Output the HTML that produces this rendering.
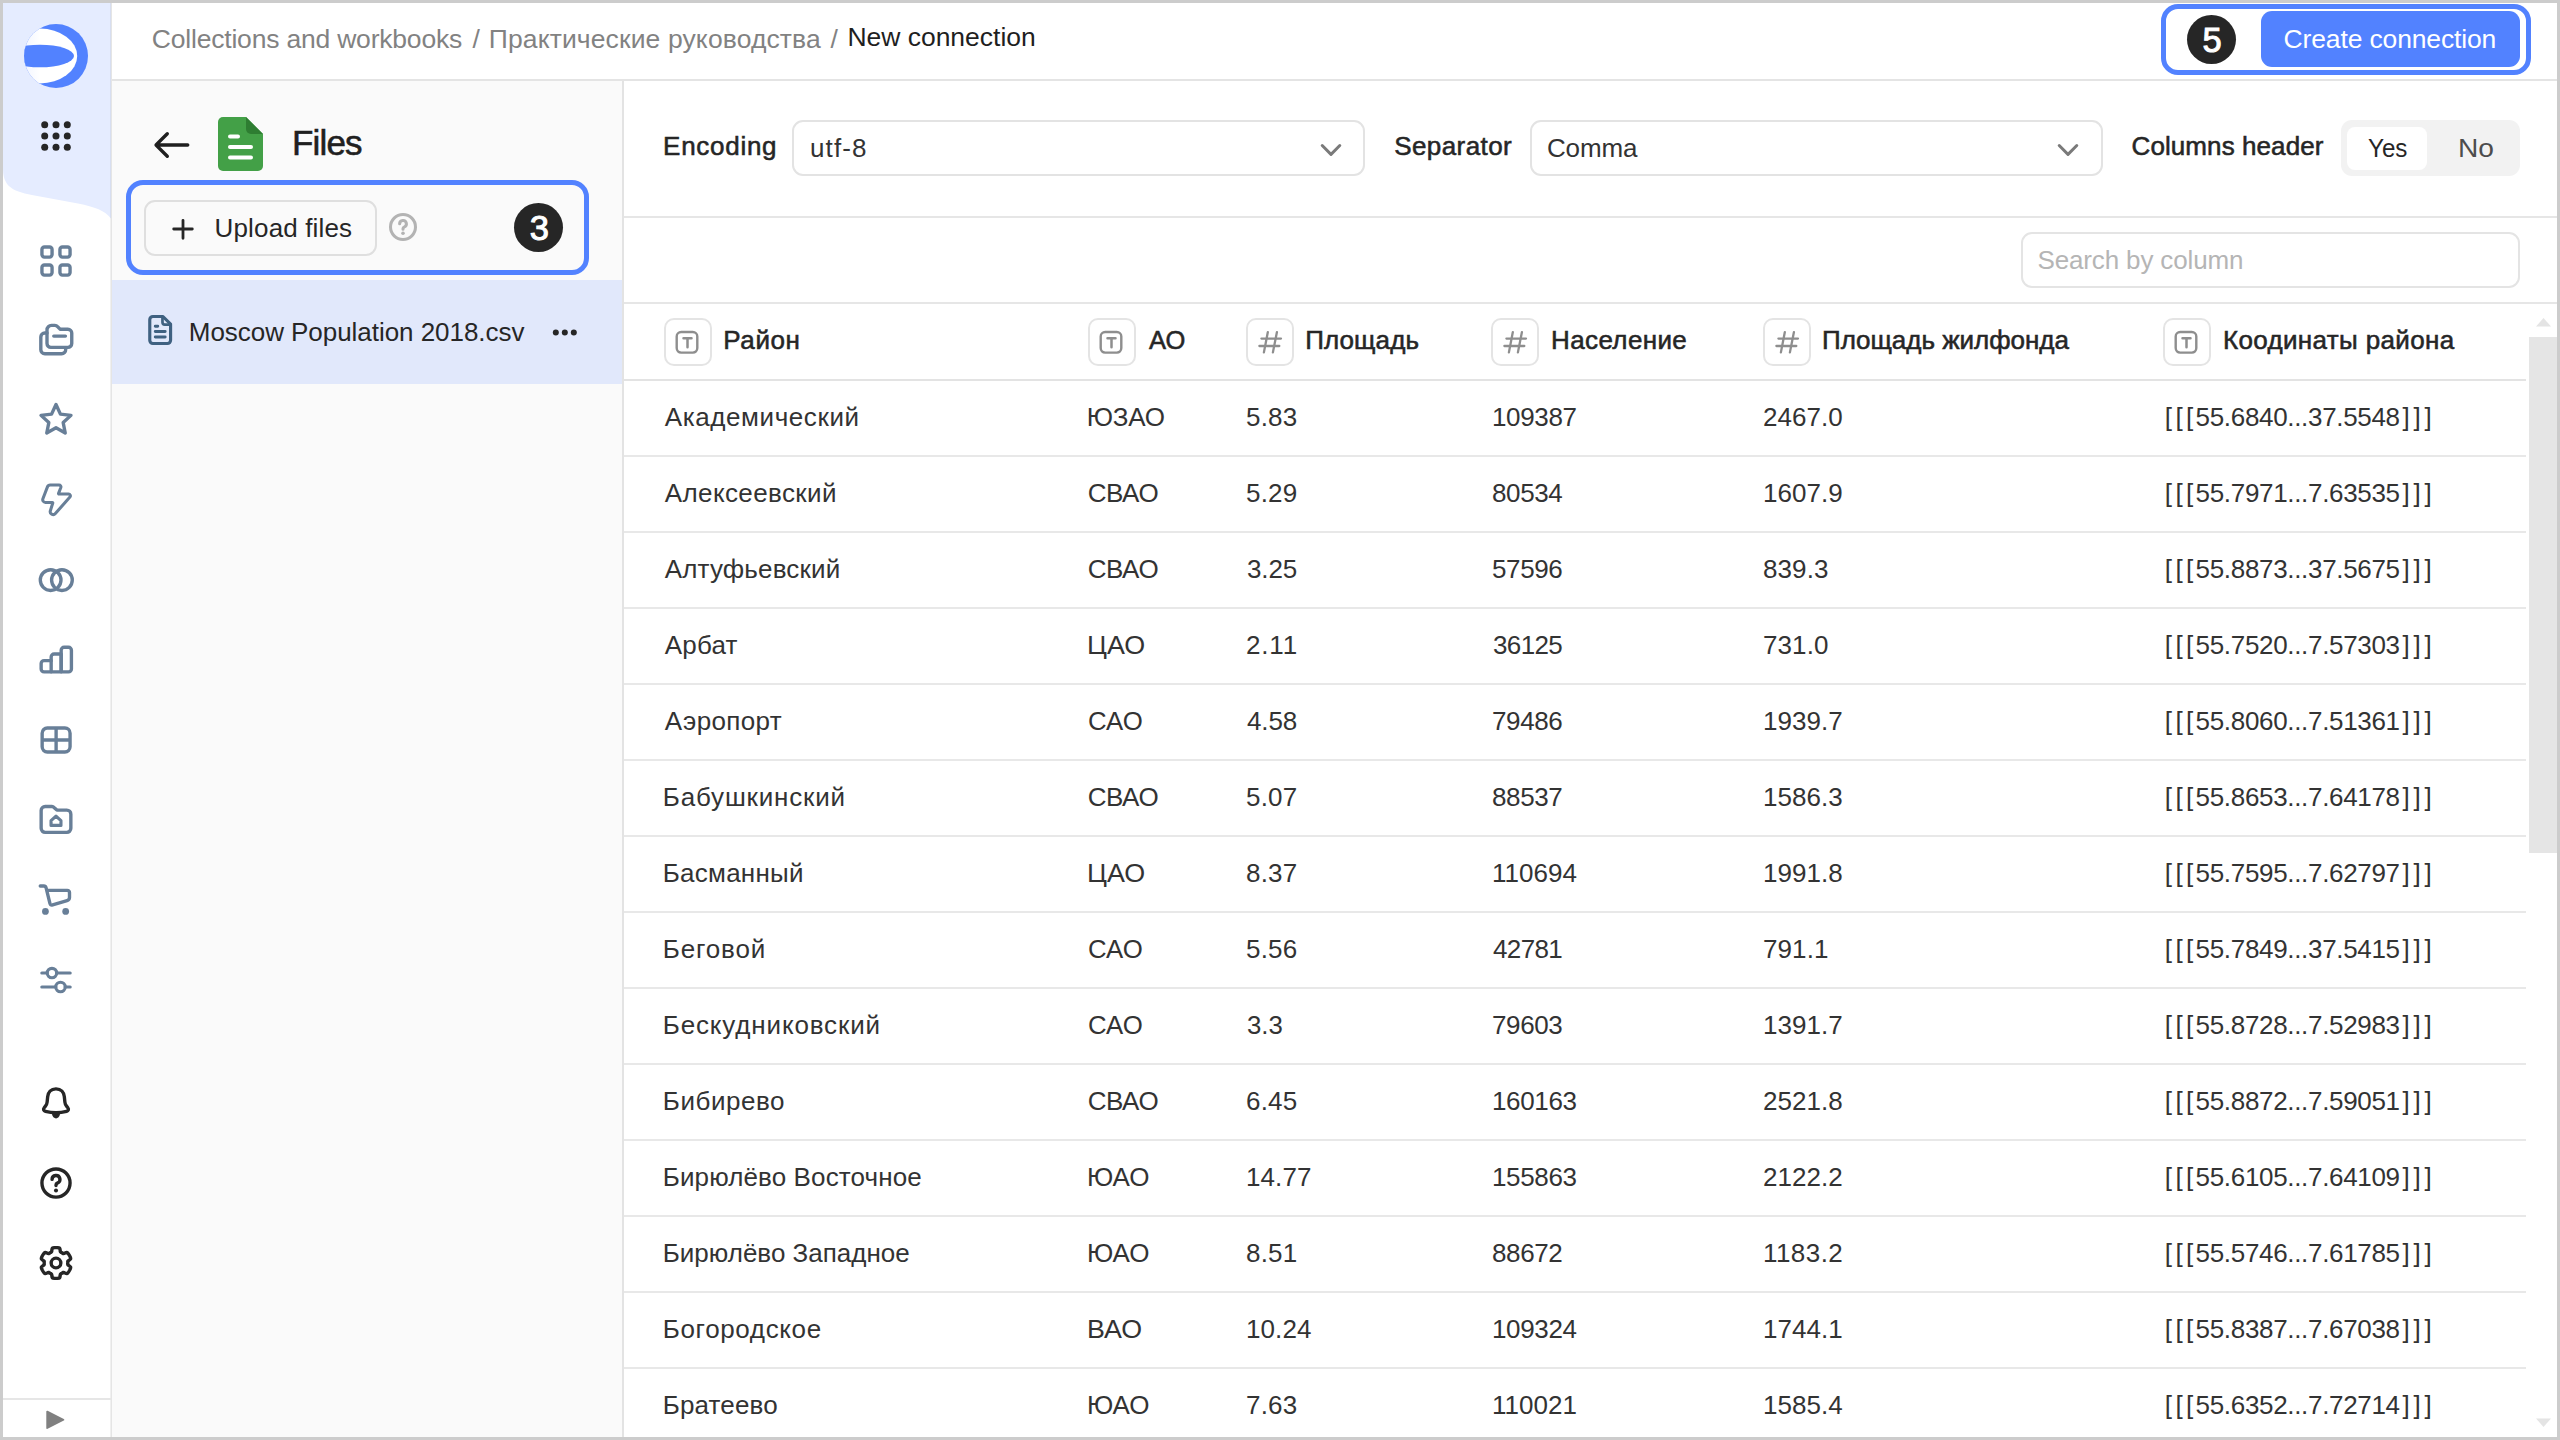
<!DOCTYPE html>
<html lang="en">
<head>
<meta charset="utf-8">
<title>New connection</title>
<style>
*{box-sizing:border-box;margin:0;padding:0}
html,body{width:2560px;height:1440px;overflow:hidden;background:#cccccc;font-family:"Liberation Sans",sans-serif}
.a{position:absolute}
.t{position:absolute;white-space:pre;line-height:1;font-family:"Liberation Sans",sans-serif}
#app{position:absolute;left:3px;top:3px;width:2554px;height:1434px;background:#fff;overflow:hidden}
/* everything below is positioned in page coordinates, so shift the origin back */
#o{position:absolute;left:-3px;top:-3px;width:2560px;height:1440px}
.ln{position:absolute;background:#e6e6e6}
.ico{position:absolute;overflow:visible}
.nav{color:#687f98}
.blk{color:#262626}
.tbox{position:absolute;width:48px;height:48px;border:2px solid #e4e4e4;border-radius:10px;background:#fff}
.sel{position:absolute;height:56px;border:2px solid #e3e3e3;border-radius:11px;background:#fff}
</style>
</head>
<body>
<div id="app"><div id="o">

<!-- ===== files panel ===== -->
<div class="a" style="left:112px;top:80px;width:511px;height:1360px;background:#fafafa"></div>
<div class="a" style="left:112px;top:280px;width:511px;height:104px;background:#e1e8fb"></div>
<div class="ln" style="left:622px;top:80px;width:2px;height:1360px;background:#e3e3e3"></div>

<!-- ===== header ===== -->
<div class="ln" style="left:112px;top:79px;width:2445px;height:2px;background:#e4e4e4"></div>

<!-- create connection highlight -->
<div class="a" style="left:2161px;top:4px;width:370px;height:71px;border:5px solid #5282ff;border-radius:17px;background:#fff"></div>
<div class="a" style="left:2186.5px;top:15px;width:49px;height:49px;border-radius:50%;background:#262626"></div>
<div class="a" style="left:2261px;top:11px;width:259px;height:56px;border-radius:11px;background:#5282ff"></div>

<!-- ===== sidebar ===== -->
<div class="a" style="left:3px;top:3px;width:108px;height:1434px;background:#fff"></div>
<svg class="a" style="left:0;top:0" width="112" height="230" viewBox="0 0 112 230"><path d="M3 3H111V218.500C105 210.500 95 207 78 203.500L40 196.500C18 192.500 3 190 3 169Z" fill="#e5ecff"/></svg>
<div class="ln" style="left:110px;top:3px;width:1px;height:1434px;background:rgba(0,0,0,.06)"></div><div class="ln" style="left:111px;top:3px;width:1px;height:1434px;background:rgba(0,0,0,.1)"></div>
<div class="ln" style="left:3px;top:1398px;width:108px;height:2px;background:#e6e6e6"></div>

<!-- logo -->
<svg class="a" style="left:24px;top:24px" width="64" height="64" viewBox="0 0 64 64">
<defs><linearGradient id="lg" x1="0" x2="1" y1="0" y2="0"><stop offset="0" stop-color="#dfe8ff"/><stop offset="0.5" stop-color="#ffffff"/></linearGradient>
<clipPath id="lc"><circle cx="32" cy="32" r="32"/></clipPath></defs>
<circle cx="32" cy="32" r="32" fill="#5282ff"/>
<g clip-path="url(#lc)"><ellipse cx="16" cy="32" rx="37.200" ry="27.400" fill="url(#lg)"/><ellipse cx="16" cy="32" rx="34" ry="11.300" fill="#5282ff"/></g>
</svg>
<!-- 9 dots -->
<svg class="a" style="left:38.400px;top:118.200px" width="36" height="36" viewBox="0 0 36 36" fill="#262626">
<circle cx="6.7" cy="6.7" r="3.500"/><circle cx="18" cy="6.7" r="3.500"/><circle cx="29.3" cy="6.7" r="3.500"/>
<circle cx="6.7" cy="18" r="3.500"/><circle cx="18" cy="18" r="3.500"/><circle cx="29.3" cy="18" r="3.500"/>
<circle cx="6.7" cy="29.3" r="3.500"/><circle cx="18" cy="29.3" r="3.500"/><circle cx="29.3" cy="29.3" r="3.500"/>
</svg>

<!-- nav icons : 36px, viewBox 16 -->
<svg class="ico nav" style="left:38px;top:243px" width="36" height="36" viewBox="0 0 16 16" fill="none" stroke="currentColor" stroke-width="1.500" stroke-linecap="round" stroke-linejoin="round">
<rect x="1.750" y="1.750" width="4.500" height="4.500" rx="1.100"/><rect x="9.750" y="1.750" width="4.500" height="4.500" rx="1.100"/><rect x="1.750" y="9.750" width="4.500" height="4.500" rx="1.100"/><rect x="9.750" y="9.750" width="4.500" height="4.500" rx="1.100"/></svg>

<svg class="ico nav" style="left:38px;top:321.500px" width="36" height="36" viewBox="0 0 16 16" fill="none" stroke="currentColor" stroke-width="1.500" stroke-linecap="round" stroke-linejoin="round">
<path d="M4 3.900V9.600A1.700 1.700 0 0 0 5.700 11.300H13.300A1.700 1.700 0 0 0 15 9.600V4.900A1.700 1.700 0 0 0 13.300 3.200H9.800L8.700 2.050A1.600 1.600 0 0 0 7.500 1.500H6A2 2 0 0 0 4 3.500Z"/>
<path d="M7 6.250H12.200"/>
<path d="M4 4.900H3A1.750 1.750 0 0 0 1.250 6.650V12.300A1.800 1.800 0 0 0 3.050 14.100H10.500A1.800 1.800 0 0 0 12.300 12.300V11.400"/></svg>

<svg class="ico nav" style="left:38px;top:401px" width="36" height="36" viewBox="0 0 16 16" fill="none" stroke="currentColor" stroke-width="1.500" stroke-linecap="round" stroke-linejoin="round">
<path d="M8.00 1.55L9.97 5.84L14.66 6.39L11.19 9.59L12.11 14.21L8.00 11.90L3.89 14.21L4.81 9.59L1.34 6.39L6.03 5.84Z"/></svg>

<svg class="ico nav" style="left:38px;top:481.500px" width="36" height="36" viewBox="0 0 16 16" fill="none" stroke="currentColor" stroke-width="1.500" stroke-linecap="round" stroke-linejoin="round">
<path d="M4.20 2.17A1.30 1.30 0 0 1 5.42 1.33L9.35 1.33A0.85 0.85 0 0 1 10.15 2.47L9.13 5.07A0.20 0.20 0 0 0 9.32 5.34L13.59 5.34A0.80 0.80 0 0 1 14.19 6.67L7.72 14.02A1.30 1.30 0 0 1 5.50 12.77L6.57 9.34A0.20 0.20 0 0 0 6.38 9.08L3.30 9.08A1.20 1.20 0 0 1 2.18 7.45Z" stroke-width="1.350"/></svg>

<svg class="ico nav" style="left:38px;top:561.500px" width="36" height="36" viewBox="0 0 16 16" fill="none" stroke="currentColor" stroke-width="1.500">
<circle cx="5.620" cy="8.050" r="4.600"/><circle cx="10.640" cy="8.050" r="4.600"/></svg>

<svg class="ico nav" style="left:38px;top:642px" width="36" height="36" viewBox="0 0 16 16" fill="none" stroke="currentColor" stroke-width="1.500" stroke-linecap="round" stroke-linejoin="round">
<path d="M5.850 13.250H2.700A1.300 1.300 0 0 1 1.400 11.950V9.600A1.300 1.300 0 0 1 2.700 8.300H5.850"/>
<path d="M5.850 13.250V6.650A1.300 1.300 0 0 1 7.150 5.350H10.300V13.250Z"/>
<path d="M10.300 13.250V3.650A1.300 1.300 0 0 1 11.600 2.350H13.550A1.300 1.300 0 0 1 14.850 3.650V11.950A1.300 1.300 0 0 1 13.550 13.250Z"/></svg>

<svg class="ico nav" style="left:38px;top:722px" width="36" height="36" viewBox="0 0 16 16" fill="none" stroke="currentColor" stroke-width="1.500" stroke-linecap="round" stroke-linejoin="round">
<rect x="1.850" y="2.650" width="12.400" height="10.700" rx="2.300"/><path d="M8.050 2.650V13.350M1.850 8H14.250" stroke-linecap="butt"/></svg>

<svg class="ico nav" style="left:38px;top:801.500px" width="36" height="36" viewBox="0 0 16 16" fill="none" stroke="currentColor" stroke-width="1.500" stroke-linecap="round" stroke-linejoin="round">
<path d="M1.400 4V11.700A1.800 1.800 0 0 0 3.200 13.500H12.800A1.800 1.800 0 0 0 14.600 11.700V5.400A1.800 1.800 0 0 0 12.800 3.600H8.400L7.100 2.400A1.300 1.300 0 0 0 6.200 2H3.200A1.800 1.800 0 0 0 1.400 3.800Z"/>
<path d="M8 6.300L10.200 8.300V10.400H5.800V8.300Z" stroke-width="1.400"/></svg>

<svg class="ico nav" style="left:38px;top:881.500px" width="36" height="36" viewBox="0 0 16 16" fill="none" stroke="currentColor" stroke-width="1.500" stroke-linecap="round" stroke-linejoin="round">
<path d="M1 1.750H2.600A1 1 0 0 1 3.570 2.500L5.300 9.500A1 1 0 0 0 6.500 10.200L12.900 8.300A1.500 1.500 0 0 0 14 6.900V4.700A1 1 0 0 0 13 3.700H4"/>
<circle cx="3.300" cy="13.100" r="1.500" fill="currentColor" stroke="none"/><circle cx="12.300" cy="13.100" r="1.500" fill="currentColor" stroke="none"/></svg>

<svg class="ico nav" style="left:38px;top:961.500px" width="36" height="36" viewBox="0 0 16 16" fill="none" stroke="currentColor" stroke-width="1.400" stroke-linecap="round" stroke-linejoin="round">
<path d="M1.700 4.900H4.100M8.300 4.900H14.300M1.700 11.100H7.900M12.100 11.100H14.300"/>
<circle cx="6.200" cy="4.900" r="2.100"/><circle cx="10" cy="11.100" r="2.100"/></svg>

<!-- bottom icons -->
<svg class="ico blk" style="left:38.400px;top:1085px" width="36" height="36" viewBox="0 0 16 16" fill="none" stroke="currentColor" stroke-width="1.500" stroke-linecap="round" stroke-linejoin="round">
<path d="M8 1.700C5.700 1.700 4.500 3.300 4.300 5.200L4.050 7.600C3.980 8.300 3.700 8.900 3.300 9.400L2.750 10.100C2.200 10.800 2.500 11.500 3.300 11.700C6.300 12.500 9.700 12.500 12.700 11.700C13.500 11.500 13.800 10.800 13.250 10.100L12.700 9.400C12.300 8.900 12.020 8.300 11.950 7.600L11.700 5.200C11.500 3.300 10.300 1.700 8 1.700Z"/>
<path d="M6.150 12.700C6.400 14.200 7.200 14.850 8 14.850C8.800 14.850 9.600 14.200 9.850 12.700Z" fill="currentColor" stroke="none"/></svg>

<svg class="ico blk" style="left:38.400px;top:1164.500px" width="36" height="36" viewBox="0 0 16 16" fill="none" stroke="currentColor" stroke-width="1.500" stroke-linecap="round" stroke-linejoin="round">
<circle cx="8" cy="8" r="6.250"/><path d="M6.250 6.400A1.750 1.750 0 1 1 8.600 8.050C8.250 8.200 8 8.450 8 8.850V9.100"/><circle cx="8" cy="11.300" r="0.900" fill="currentColor" stroke="none"/></svg>

<svg class="ico blk" style="left:38.400px;top:1244.700px" width="36" height="36" viewBox="0 0 16 16" fill="none" stroke="currentColor" stroke-width="1.500" stroke-linecap="round" stroke-linejoin="round">
<path d="M8.00 1.15L8.24 1.15L8.48 1.17L8.72 1.19L8.95 1.22L9.19 1.25L9.42 1.30L9.64 1.44L9.77 1.81L9.85 2.30L9.90 2.77L9.98 3.09L10.14 3.20L10.30 3.28L10.46 3.36L10.62 3.45L10.78 3.55L10.94 3.65L11.09 3.75L11.26 3.83L11.58 3.74L12.01 3.55L12.47 3.37L12.86 3.30L13.09 3.42L13.25 3.60L13.40 3.78L13.54 3.97L13.68 4.17L13.81 4.37L13.93 4.58L14.05 4.78L14.16 5.00L14.26 5.21L14.35 5.43L14.44 5.66L14.51 5.88L14.50 6.14L14.24 6.44L13.86 6.75L13.48 7.03L13.24 7.26L13.22 7.45L13.24 7.63L13.25 7.82L13.25 8.00L13.25 8.18L13.24 8.37L13.22 8.55L13.24 8.74L13.48 8.97L13.86 9.25L14.24 9.56L14.50 9.86L14.51 10.12L14.44 10.34L14.35 10.57L14.26 10.79L14.16 11.00L14.05 11.22L13.93 11.42L13.81 11.63L13.68 11.83L13.54 12.03L13.40 12.22L13.25 12.40L13.09 12.58L12.86 12.70L12.47 12.63L12.01 12.45L11.58 12.26L11.26 12.17L11.09 12.25L10.94 12.35L10.78 12.45L10.62 12.55L10.46 12.64L10.30 12.72L10.14 12.80L9.98 12.91L9.90 13.23L9.85 13.70L9.77 14.19L9.64 14.56L9.42 14.70L9.19 14.75L8.95 14.78L8.72 14.81L8.48 14.83L8.24 14.85L8.00 14.85L7.76 14.85L7.52 14.83L7.28 14.81L7.05 14.78L6.81 14.75L6.58 14.70L6.36 14.56L6.23 14.19L6.15 13.70L6.10 13.23L6.02 12.91L5.86 12.80L5.70 12.72L5.54 12.64L5.38 12.55L5.22 12.45L5.06 12.35L4.91 12.25L4.74 12.17L4.42 12.26L3.99 12.45L3.53 12.63L3.14 12.70L2.91 12.58L2.75 12.40L2.60 12.22L2.46 12.03L2.32 11.83L2.19 11.63L2.07 11.42L1.95 11.22L1.84 11.00L1.74 10.79L1.65 10.57L1.56 10.34L1.49 10.12L1.50 9.86L1.76 9.56L2.14 9.25L2.52 8.97L2.76 8.74L2.78 8.55L2.76 8.37L2.75 8.18L2.75 8.00L2.75 7.82L2.76 7.63L2.78 7.45L2.76 7.26L2.52 7.03L2.14 6.75L1.76 6.44L1.50 6.14L1.49 5.88L1.56 5.66L1.65 5.43L1.74 5.21L1.84 5.00L1.95 4.78L2.07 4.57L2.19 4.37L2.32 4.17L2.46 3.97L2.60 3.78L2.75 3.60L2.91 3.42L3.14 3.30L3.53 3.37L3.99 3.55L4.42 3.74L4.74 3.83L4.91 3.75L5.06 3.65L5.22 3.55L5.37 3.45L5.54 3.36L5.70 3.28L5.86 3.20L6.02 3.09L6.10 2.77L6.15 2.30L6.23 1.81L6.36 1.44L6.58 1.30L6.81 1.25L7.05 1.22L7.28 1.19L7.52 1.17L7.76 1.15Z"/>
<circle cx="8" cy="8" r="2.150"/></svg>

<svg class="a" style="left:46px;top:1410px" width="19" height="20" viewBox="0 0 19 20"><path d="M1.200 1.600L17.400 9.800L1.200 18Z" fill="#808080" stroke="#808080" stroke-width="1.800" stroke-linejoin="round"/></svg>

<!-- ===== files panel content ===== -->
<svg class="ico" style="left:152px;top:126.500px;color:#1f1f1f" width="40" height="36" viewBox="0 0 17.800 16"><path fill="currentColor" d="M7.330 2.470a.75.75 0 0 1 0 1.060L3.610 7.250H15.900a.75.75 0 0 1 0 1.500H3.610l3.720 3.720a.75.75 0 1 1-1.060 1.060l-5-5a.75.75 0 0 1 0-1.060l5-5a.75.75 0 0 1 1.060 0Z"/></svg>
<svg class="a" style="left:217.500px;top:117px" width="45" height="54" viewBox="0 0 45 54">
<path d="M5 0H28L45 17V49A5 5 0 0 1 40 54H5A5 5 0 0 1 0 49V5A5 5 0 0 1 5 0Z" fill="#43a047"/>
<path d="M28 0L45 17H33A5 5 0 0 1 28 12Z" fill="#2e7d32"/>
<rect x="10" y="17.500" width="12" height="4" rx="2" fill="#fff"/><rect x="10" y="28" width="25" height="4" rx="2" fill="#fff"/><rect x="10" y="38.500" width="25" height="4" rx="2" fill="#fff"/>
</svg>

<!-- upload highlight -->
<div class="a" style="left:126px;top:180px;width:463px;height:95px;border:5px solid #5282ff;border-radius:17px;background:#fafafa"></div>
<div class="a" style="left:144px;top:200px;width:232.500px;height:56px;border:2px solid #dfdfdf;border-radius:11px;background:#fafafa"></div>
<svg class="ico" style="left:167.400px;top:212.700px;color:#262626" width="32" height="32" viewBox="0 0 16 16"><path fill="currentColor" d="M8 2.950a.7.700 0 0 1 .7.700v3.650h3.950a.7.700 0 0 1 0 1.400H8.700v3.950a.7.700 0 0 1-1.400 0V8.700H3.350a.7.700 0 0 1 0-1.400H7.300V3.650A.7.700 0 0 1 8 2.950Z"/></svg>
<svg class="ico" style="left:385px;top:209px;color:#b3b3b3" width="36" height="36" viewBox="0 0 16 16" fill="none" stroke="currentColor" stroke-width="1.350" stroke-linecap="round" stroke-linejoin="round">
<circle cx="8" cy="8" r="5.550"/><path d="M6.500 6.600A1.500 1.500 0 1 1 8.500 8.050C8.200 8.200 8 8.400 8 8.750V9"/><circle cx="8" cy="10.800" r="0.800" fill="currentColor" stroke="none"/></svg>
<div class="a" style="left:514px;top:203px;width:49px;height:49px;border-radius:50%;background:#262626"></div>

<!-- file row -->
<svg class="ico" style="left:142px;top:311.500px;color:#3f6181" width="36" height="36" viewBox="0 0 16 16" fill="none" stroke="currentColor" stroke-width="1.400" stroke-linecap="round" stroke-linejoin="round">
<path d="M3.450 3.400A1.400 1.400 0 0 1 4.850 2H9.300L12.700 5.400V12.600A1.400 1.400 0 0 1 11.300 14H4.850A1.400 1.400 0 0 1 3.450 12.600Z"/><path d="M9.100 2.200V4.600A1 1 0 0 0 10.100 5.600H12.500" stroke-width="1.200"/>
<path d="M5.900 6.300H7M5.900 8.700H10.300M5.900 11.100H10.300" stroke-width="1.300"/></svg>
<svg class="a" style="left:552px;top:328px" width="26" height="9" viewBox="0 0 26 9" fill="#262626"><circle cx="3.800" cy="4.500" r="3"/><circle cx="12.800" cy="4.500" r="3"/><circle cx="21.800" cy="4.500" r="3"/></svg>

<!-- ===== toolbar ===== -->
<div class="ln" style="left:624px;top:216px;width:1933px;height:2px;background:#e6e6e6"></div>
<div class="sel" style="left:792px;top:120px;width:573px"></div>
<div class="sel" style="left:1530px;top:120px;width:572.500px"></div>
<svg class="ico" style="left:1314.100px;top:131.700px;color:#7a7a7a" width="34" height="34" viewBox="0 0 16 16"><path fill="currentColor" d="M3.370 5.870a.7.700 0 0 1 1 0L8 9.500l3.630-3.630a.7.700 0 1 1 1 1l-4.130 4.130a.7.700 0 0 1-1 0L3.370 6.870a.7.700 0 0 1 0-1Z"/></svg>
<svg class="ico" style="left:2050.700px;top:131.700px;color:#7a7a7a" width="34" height="34" viewBox="0 0 16 16"><path fill="currentColor" d="M3.370 5.870a.7.700 0 0 1 1 0L8 9.500l3.630-3.630a.7.700 0 1 1 1 1l-4.130 4.130a.7.700 0 0 1-1 0L3.370 6.870a.7.700 0 0 1 0-1Z"/></svg>
<div class="a" style="left:2341px;top:120px;width:179px;height:56px;border-radius:11px;background:#f2f2f2"></div>
<div class="a" style="left:2347px;top:126.500px;width:80px;height:43px;border-radius:8px;background:#fff"></div>

<!-- search -->
<div class="a" style="left:2020.500px;top:232px;width:499.500px;height:55.500px;border:2px solid #e4e4e4;border-radius:11px;background:#fff"></div>

<!-- ===== table ===== -->
<div class="ln" style="left:624px;top:302px;width:1933px;height:2px;background:#e6e6e6"></div>
<div class="ln" style="left:624px;top:379px;width:1902px;height:2px;background:#e3e3e3"></div>
<div class="ln" style="left:624px;top:455px;width:1902px;height:2px;background:#e8e8e8"></div>
<div class="ln" style="left:624px;top:531px;width:1902px;height:2px;background:#e8e8e8"></div>
<div class="ln" style="left:624px;top:607px;width:1902px;height:2px;background:#e8e8e8"></div>
<div class="ln" style="left:624px;top:683px;width:1902px;height:2px;background:#e8e8e8"></div>
<div class="ln" style="left:624px;top:759px;width:1902px;height:2px;background:#e8e8e8"></div>
<div class="ln" style="left:624px;top:835px;width:1902px;height:2px;background:#e8e8e8"></div>
<div class="ln" style="left:624px;top:911px;width:1902px;height:2px;background:#e8e8e8"></div>
<div class="ln" style="left:624px;top:987px;width:1902px;height:2px;background:#e8e8e8"></div>
<div class="ln" style="left:624px;top:1063px;width:1902px;height:2px;background:#e8e8e8"></div>
<div class="ln" style="left:624px;top:1139px;width:1902px;height:2px;background:#e8e8e8"></div>
<div class="ln" style="left:624px;top:1215px;width:1902px;height:2px;background:#e8e8e8"></div>
<div class="ln" style="left:624px;top:1291px;width:1902px;height:2px;background:#e8e8e8"></div>
<div class="ln" style="left:624px;top:1367px;width:1902px;height:2px;background:#e8e8e8"></div>
<div class="tbox" style="left:663.5px;top:318px"></div>
<div class="tbox" style="left:1087.5px;top:318px"></div>
<div class="tbox" style="left:1246px;top:318px"></div>
<div class="tbox" style="left:1491px;top:318px"></div>
<div class="tbox" style="left:1763px;top:318px"></div>
<div class="tbox" style="left:2163px;top:318px"></div>
<svg class="a" style="left:663.6px;top:318.800px" width="47" height="47" viewBox="0 0 47 47" fill="none" stroke="#8e8e8e" stroke-width="2.400" stroke-linecap="round"><rect x="12.700" y="13" width="20.600" height="20.600" rx="4.500"/><path d="M19.500 19.300H27.500M23.500 19.300V28.300" stroke-width="2.500"/></svg>
<svg class="a" style="left:1087.6px;top:318.800px" width="47" height="47" viewBox="0 0 47 47" fill="none" stroke="#8e8e8e" stroke-width="2.400" stroke-linecap="round"><rect x="12.700" y="13" width="20.600" height="20.600" rx="4.500"/><path d="M19.500 19.300H27.500M23.500 19.300V28.300" stroke-width="2.500"/></svg>
<svg class="a" style="left:1246.5px;top:319px" width="47" height="47" viewBox="0 0 47 47" fill="none" stroke="#8e8e8e" stroke-width="2.300" stroke-linecap="round"><path d="M14.400 19.600H34M12.400 27H32.300M20.800 13.200L16.900 33.400M29.900 13.200L25.900 33.400"/></svg>
<svg class="a" style="left:1491.5px;top:319px" width="47" height="47" viewBox="0 0 47 47" fill="none" stroke="#8e8e8e" stroke-width="2.300" stroke-linecap="round"><path d="M14.400 19.600H34M12.400 27H32.300M20.800 13.200L16.900 33.400M29.900 13.200L25.900 33.400"/></svg>
<svg class="a" style="left:1763.5px;top:319px" width="47" height="47" viewBox="0 0 47 47" fill="none" stroke="#8e8e8e" stroke-width="2.300" stroke-linecap="round"><path d="M14.400 19.600H34M12.400 27H32.300M20.800 13.200L16.900 33.400M29.900 13.200L25.900 33.400"/></svg>
<svg class="a" style="left:2163.1px;top:318.800px" width="47" height="47" viewBox="0 0 47 47" fill="none" stroke="#8e8e8e" stroke-width="2.400" stroke-linecap="round"><rect x="12.700" y="13" width="20.600" height="20.600" rx="4.500"/><path d="M19.500 19.300H27.500M23.500 19.300V28.300" stroke-width="2.500"/></svg>

<!-- scrollbar -->
<div class="a" style="left:2529px;top:337px;width:28px;height:516px;background:#e5e5e5"></div>
<svg class="a" style="left:2536px;top:318px" width="15" height="9" viewBox="0 0 15 9"><path d="M7.500 0L15 8.500H0Z" fill="#e4e4e4"/></svg>
<svg class="a" style="left:2536px;top:1417.500px" width="15" height="9" viewBox="0 0 15 9"><path d="M0 0.500H15L7.500 9Z" fill="#e4e4e4"/></svg>

<!-- badge numerals -->
<span class="t" style="left:151.80px;top:26.00px;font-size:26.5px;color:#828282;letter-spacing:-0.199px;">Collections and workbooks</span>
<span class="t" style="left:472.50px;top:26.00px;font-size:26.5px;color:#828282;">/</span>
<span class="t" style="left:488.80px;top:26.00px;font-size:26.5px;color:#828282;letter-spacing:0.116px;">Практические руководства</span>
<span class="t" style="left:830.40px;top:26.00px;font-size:26.5px;color:#828282;">/</span>
<span class="t" style="left:847.40px;top:24.00px;font-size:26.5px;color:#1f1f1f;letter-spacing:-0.017px;">New connection</span>
<span class="t" style="left:2283.60px;top:26.00px;font-size:26.5px;color:#ffffff;letter-spacing:-0.146px;">Create connection</span>
<span class="t" style="left:292.07px;top:125.00px;font-size:35px;color:#202020;-webkit-text-stroke:0.55px #202020;letter-spacing:-0.862px;">Files</span>
<span class="t" style="left:214.60px;top:214.70px;font-size:26px;color:#262626;letter-spacing:0.141px;">Upload files</span>
<span class="t" style="left:188.80px;top:319.00px;font-size:26px;color:#262626;letter-spacing:-0.046px;">Moscow Population 2018.csv</span>
<span class="t" style="left:663.07px;top:132.60px;font-size:26px;color:#262626;-webkit-text-stroke:0.55px #262626;letter-spacing:0.727px;">Encoding</span>
<span class="t" style="left:810.00px;top:134.80px;font-size:26px;color:#333333;letter-spacing:1.109px;">utf-8</span>
<span class="t" style="left:1394.28px;top:132.80px;font-size:26px;color:#262626;-webkit-text-stroke:0.55px #262626;letter-spacing:0.403px;">Separator</span>
<span class="t" style="left:1547.00px;top:135.00px;font-size:26px;color:#333333;letter-spacing:-0.163px;">Comma</span>
<span class="t" style="left:2131.58px;top:132.70px;font-size:26px;color:#262626;-webkit-text-stroke:0.55px #262626;letter-spacing:0.080px;">Columns header</span>
<span class="t" style="left:2367.80px;top:134.50px;font-size:26px;color:#262626;transform:scaleX(0.9289);transform-origin:0 0;">Yes</span>
<span class="t" style="left:2458.14px;top:134.50px;font-size:26px;color:#4d4d4d;transform:scaleX(1.0820);transform-origin:0 0;">No</span>
<span class="t" style="left:2037.50px;top:247.00px;font-size:26px;color:#b5b5b5;letter-spacing:-0.143px;">Search by column</span>
<span class="t" style="left:723.27px;top:327.00px;font-size:26px;color:#262626;-webkit-text-stroke:0.55px #262626;letter-spacing:0.607px;">Район</span>
<span class="t" style="left:1148.97px;top:327.00px;font-size:26px;color:#262626;transform:scaleX(0.9802);transform-origin:0 0;-webkit-text-stroke:0.55px #262626;">АО</span>
<span class="t" style="left:1305.18px;top:327.00px;font-size:26px;color:#262626;-webkit-text-stroke:0.55px #262626;letter-spacing:0.103px;">Площадь</span>
<span class="t" style="left:1551.08px;top:327.00px;font-size:26px;color:#262626;-webkit-text-stroke:0.55px #262626;letter-spacing:0.363px;">Население</span>
<span class="t" style="left:1821.98px;top:327.00px;font-size:26px;color:#262626;-webkit-text-stroke:0.55px #262626;letter-spacing:-0.028px;">Площадь жилфонда</span>
<span class="t" style="left:2222.88px;top:327.00px;font-size:26px;color:#262626;-webkit-text-stroke:0.55px #262626;letter-spacing:0.356px;">Коодинаты района</span>
<span class="t" style="left:664.80px;top:404.00px;font-size:26px;color:#333333;letter-spacing:0.585px;">Академический</span>
<span class="t" style="left:1086.80px;top:404.00px;font-size:26px;color:#333333;letter-spacing:-0.247px;">ЮЗАО</span>
<span class="t" style="left:1246.00px;top:404.00px;font-size:26px;color:#333333;letter-spacing:0.185px;">5.83</span>
<span class="t" style="left:1492.00px;top:404.00px;font-size:26px;color:#333333;letter-spacing:-0.340px;">109387</span>
<span class="t" style="left:1763.00px;top:404.00px;font-size:26px;color:#333333;letter-spacing:0.047px;">2467.0</span>
<span class="t" style="left:2164.80px;top:404.00px;font-size:26px;color:#333333;letter-spacing:3.376px;">[[[</span>
<span class="t" style="left:2195.60px;top:404.00px;font-size:26px;color:#333333;letter-spacing:-0.324px;">55.6840...37.5548</span>
<span class="t" style="left:2402.40px;top:404.00px;font-size:26px;color:#333333;letter-spacing:3.876px;">]]]</span>
<span class="t" style="left:664.80px;top:480.00px;font-size:26px;color:#333333;letter-spacing:0.384px;">Алексеевский</span>
<span class="t" style="left:1087.80px;top:480.00px;font-size:26px;color:#333333;letter-spacing:-0.475px;">СВАО</span>
<span class="t" style="left:1246.00px;top:480.00px;font-size:26px;color:#333333;letter-spacing:0.185px;">5.29</span>
<span class="t" style="left:1492.00px;top:480.00px;font-size:26px;color:#333333;letter-spacing:-0.385px;">80534</span>
<span class="t" style="left:1763.00px;top:480.00px;font-size:26px;color:#333333;letter-spacing:0.047px;">1607.9</span>
<span class="t" style="left:2164.80px;top:480.00px;font-size:26px;color:#333333;letter-spacing:3.376px;">[[[</span>
<span class="t" style="left:2195.60px;top:480.00px;font-size:26px;color:#333333;letter-spacing:-0.324px;">55.7971...7.63535</span>
<span class="t" style="left:2402.40px;top:480.00px;font-size:26px;color:#333333;letter-spacing:3.876px;">]]]</span>
<span class="t" style="left:664.80px;top:556.00px;font-size:26px;color:#333333;letter-spacing:0.151px;">Алтуфьевский</span>
<span class="t" style="left:1087.80px;top:556.00px;font-size:26px;color:#333333;letter-spacing:-0.475px;">СВАО</span>
<span class="t" style="left:1247.00px;top:556.00px;font-size:26px;color:#333333;letter-spacing:-0.148px;">3.25</span>
<span class="t" style="left:1492.00px;top:556.00px;font-size:26px;color:#333333;letter-spacing:-0.385px;">57596</span>
<span class="t" style="left:1763.00px;top:556.00px;font-size:26px;color:#333333;letter-spacing:0.099px;">839.3</span>
<span class="t" style="left:2164.80px;top:556.00px;font-size:26px;color:#333333;letter-spacing:3.376px;">[[[</span>
<span class="t" style="left:2195.60px;top:556.00px;font-size:26px;color:#333333;letter-spacing:-0.324px;">55.8873...37.5675</span>
<span class="t" style="left:2402.40px;top:556.00px;font-size:26px;color:#333333;letter-spacing:3.876px;">]]]</span>
<span class="t" style="left:664.80px;top:632.00px;font-size:26px;color:#333333;letter-spacing:0.179px;">Арбат</span>
<span class="t" style="left:1086.73px;top:632.00px;font-size:26px;color:#333333;transform:scaleX(1.0339);transform-origin:0 0;">ЦАО</span>
<span class="t" style="left:1246.00px;top:632.00px;font-size:26px;color:#333333;letter-spacing:0.829px;">2.11</span>
<span class="t" style="left:1493.00px;top:632.00px;font-size:26px;color:#333333;letter-spacing:-0.635px;">36125</span>
<span class="t" style="left:1763.00px;top:632.00px;font-size:26px;color:#333333;letter-spacing:0.099px;">731.0</span>
<span class="t" style="left:2164.80px;top:632.00px;font-size:26px;color:#333333;letter-spacing:3.376px;">[[[</span>
<span class="t" style="left:2195.60px;top:632.00px;font-size:26px;color:#333333;letter-spacing:-0.324px;">55.7520...7.57303</span>
<span class="t" style="left:2402.40px;top:632.00px;font-size:26px;color:#333333;letter-spacing:3.876px;">]]]</span>
<span class="t" style="left:664.80px;top:708.00px;font-size:26px;color:#333333;letter-spacing:0.339px;">Аэропорт</span>
<span class="t" style="left:1087.81px;top:708.00px;font-size:26px;color:#333333;transform:scaleX(0.9910);transform-origin:0 0;">САО</span>
<span class="t" style="left:1247.00px;top:708.00px;font-size:26px;color:#333333;letter-spacing:-0.148px;">4.58</span>
<span class="t" style="left:1492.00px;top:708.00px;font-size:26px;color:#333333;letter-spacing:-0.385px;">79486</span>
<span class="t" style="left:1763.00px;top:708.00px;font-size:26px;color:#333333;letter-spacing:0.047px;">1939.7</span>
<span class="t" style="left:2164.80px;top:708.00px;font-size:26px;color:#333333;letter-spacing:3.376px;">[[[</span>
<span class="t" style="left:2195.60px;top:708.00px;font-size:26px;color:#333333;letter-spacing:-0.324px;">55.8060...7.51361</span>
<span class="t" style="left:2402.40px;top:708.00px;font-size:26px;color:#333333;letter-spacing:3.876px;">]]]</span>
<span class="t" style="left:662.80px;top:784.00px;font-size:26px;color:#333333;letter-spacing:0.813px;">Бабушкинский</span>
<span class="t" style="left:1087.80px;top:784.00px;font-size:26px;color:#333333;letter-spacing:-0.475px;">СВАО</span>
<span class="t" style="left:1246.00px;top:784.00px;font-size:26px;color:#333333;letter-spacing:0.185px;">5.07</span>
<span class="t" style="left:1492.00px;top:784.00px;font-size:26px;color:#333333;letter-spacing:-0.385px;">88537</span>
<span class="t" style="left:1763.00px;top:784.00px;font-size:26px;color:#333333;letter-spacing:0.047px;">1586.3</span>
<span class="t" style="left:2164.80px;top:784.00px;font-size:26px;color:#333333;letter-spacing:3.376px;">[[[</span>
<span class="t" style="left:2195.60px;top:784.00px;font-size:26px;color:#333333;letter-spacing:-0.324px;">55.8653...7.64178</span>
<span class="t" style="left:2402.40px;top:784.00px;font-size:26px;color:#333333;letter-spacing:3.876px;">]]]</span>
<span class="t" style="left:662.80px;top:860.00px;font-size:26px;color:#333333;letter-spacing:0.242px;">Басманный</span>
<span class="t" style="left:1086.73px;top:860.00px;font-size:26px;color:#333333;transform:scaleX(1.0339);transform-origin:0 0;">ЦАО</span>
<span class="t" style="left:1246.00px;top:860.00px;font-size:26px;color:#333333;letter-spacing:0.185px;">8.37</span>
<span class="t" style="left:1492.00px;top:860.00px;font-size:26px;color:#333333;letter-spacing:0.046px;">110694</span>
<span class="t" style="left:1763.00px;top:860.00px;font-size:26px;color:#333333;letter-spacing:0.047px;">1991.8</span>
<span class="t" style="left:2164.80px;top:860.00px;font-size:26px;color:#333333;letter-spacing:3.376px;">[[[</span>
<span class="t" style="left:2195.60px;top:860.00px;font-size:26px;color:#333333;letter-spacing:-0.324px;">55.7595...7.62797</span>
<span class="t" style="left:2402.40px;top:860.00px;font-size:26px;color:#333333;letter-spacing:3.876px;">]]]</span>
<span class="t" style="left:662.80px;top:936.00px;font-size:26px;color:#333333;letter-spacing:0.838px;">Беговой</span>
<span class="t" style="left:1087.81px;top:936.00px;font-size:26px;color:#333333;transform:scaleX(0.9910);transform-origin:0 0;">САО</span>
<span class="t" style="left:1246.00px;top:936.00px;font-size:26px;color:#333333;letter-spacing:0.185px;">5.56</span>
<span class="t" style="left:1493.00px;top:936.00px;font-size:26px;color:#333333;letter-spacing:-0.635px;">42781</span>
<span class="t" style="left:1763.00px;top:936.00px;font-size:26px;color:#333333;letter-spacing:0.099px;">791.1</span>
<span class="t" style="left:2164.80px;top:936.00px;font-size:26px;color:#333333;letter-spacing:3.376px;">[[[</span>
<span class="t" style="left:2195.60px;top:936.00px;font-size:26px;color:#333333;letter-spacing:-0.324px;">55.7849...37.5415</span>
<span class="t" style="left:2402.40px;top:936.00px;font-size:26px;color:#333333;letter-spacing:3.876px;">]]]</span>
<span class="t" style="left:662.80px;top:1012.00px;font-size:26px;color:#333333;letter-spacing:0.841px;">Бескудниковский</span>
<span class="t" style="left:1087.81px;top:1012.00px;font-size:26px;color:#333333;transform:scaleX(0.9910);transform-origin:0 0;">САО</span>
<span class="t" style="left:1247.00px;top:1012.00px;font-size:26px;color:#333333;transform:scaleX(0.9921);transform-origin:0 0;">3.3</span>
<span class="t" style="left:1492.00px;top:1012.00px;font-size:26px;color:#333333;letter-spacing:-0.385px;">79603</span>
<span class="t" style="left:1763.00px;top:1012.00px;font-size:26px;color:#333333;letter-spacing:0.047px;">1391.7</span>
<span class="t" style="left:2164.80px;top:1012.00px;font-size:26px;color:#333333;letter-spacing:3.376px;">[[[</span>
<span class="t" style="left:2195.60px;top:1012.00px;font-size:26px;color:#333333;letter-spacing:-0.324px;">55.8728...7.52983</span>
<span class="t" style="left:2402.40px;top:1012.00px;font-size:26px;color:#333333;letter-spacing:3.876px;">]]]</span>
<span class="t" style="left:662.80px;top:1088.00px;font-size:26px;color:#333333;letter-spacing:0.537px;">Бибирево</span>
<span class="t" style="left:1087.80px;top:1088.00px;font-size:26px;color:#333333;letter-spacing:-0.475px;">СВАО</span>
<span class="t" style="left:1246.00px;top:1088.00px;font-size:26px;color:#333333;letter-spacing:0.185px;">6.45</span>
<span class="t" style="left:1492.00px;top:1088.00px;font-size:26px;color:#333333;letter-spacing:-0.340px;">160163</span>
<span class="t" style="left:1763.00px;top:1088.00px;font-size:26px;color:#333333;letter-spacing:0.047px;">2521.8</span>
<span class="t" style="left:2164.80px;top:1088.00px;font-size:26px;color:#333333;letter-spacing:3.376px;">[[[</span>
<span class="t" style="left:2195.60px;top:1088.00px;font-size:26px;color:#333333;letter-spacing:-0.324px;">55.8872...7.59051</span>
<span class="t" style="left:2402.40px;top:1088.00px;font-size:26px;color:#333333;letter-spacing:3.876px;">]]]</span>
<span class="t" style="left:662.80px;top:1164.00px;font-size:26px;color:#333333;letter-spacing:0.113px;">Бирюлёво Восточное</span>
<span class="t" style="left:1086.80px;top:1164.00px;font-size:26px;color:#333333;transform:scaleX(1.0004);transform-origin:0 0;">ЮАО</span>
<span class="t" style="left:1246.00px;top:1164.00px;font-size:26px;color:#333333;letter-spacing:0.099px;">14.77</span>
<span class="t" style="left:1492.00px;top:1164.00px;font-size:26px;color:#333333;letter-spacing:-0.340px;">155863</span>
<span class="t" style="left:1763.00px;top:1164.00px;font-size:26px;color:#333333;letter-spacing:0.047px;">2122.2</span>
<span class="t" style="left:2164.80px;top:1164.00px;font-size:26px;color:#333333;letter-spacing:3.376px;">[[[</span>
<span class="t" style="left:2195.60px;top:1164.00px;font-size:26px;color:#333333;letter-spacing:-0.324px;">55.6105...7.64109</span>
<span class="t" style="left:2402.40px;top:1164.00px;font-size:26px;color:#333333;letter-spacing:3.876px;">]]]</span>
<span class="t" style="left:662.80px;top:1240.00px;font-size:26px;color:#333333;letter-spacing:-0.006px;">Бирюлёво Западное</span>
<span class="t" style="left:1086.80px;top:1240.00px;font-size:26px;color:#333333;transform:scaleX(1.0004);transform-origin:0 0;">ЮАО</span>
<span class="t" style="left:1246.00px;top:1240.00px;font-size:26px;color:#333333;letter-spacing:0.185px;">8.51</span>
<span class="t" style="left:1492.00px;top:1240.00px;font-size:26px;color:#333333;letter-spacing:-0.385px;">88672</span>
<span class="t" style="left:1763.00px;top:1240.00px;font-size:26px;color:#333333;letter-spacing:0.433px;">1183.2</span>
<span class="t" style="left:2164.80px;top:1240.00px;font-size:26px;color:#333333;letter-spacing:3.376px;">[[[</span>
<span class="t" style="left:2195.60px;top:1240.00px;font-size:26px;color:#333333;letter-spacing:-0.324px;">55.5746...7.61785</span>
<span class="t" style="left:2402.40px;top:1240.00px;font-size:26px;color:#333333;letter-spacing:3.876px;">]]]</span>
<span class="t" style="left:662.80px;top:1316.00px;font-size:26px;color:#333333;letter-spacing:0.636px;">Богородское</span>
<span class="t" style="left:1086.74px;top:1316.00px;font-size:26px;color:#333333;transform:scaleX(1.0309);transform-origin:0 0;">ВАО</span>
<span class="t" style="left:1246.00px;top:1316.00px;font-size:26px;color:#333333;letter-spacing:0.099px;">10.24</span>
<span class="t" style="left:1492.00px;top:1316.00px;font-size:26px;color:#333333;letter-spacing:-0.340px;">109324</span>
<span class="t" style="left:1763.00px;top:1316.00px;font-size:26px;color:#333333;letter-spacing:0.047px;">1744.1</span>
<span class="t" style="left:2164.80px;top:1316.00px;font-size:26px;color:#333333;letter-spacing:3.376px;">[[[</span>
<span class="t" style="left:2195.60px;top:1316.00px;font-size:26px;color:#333333;letter-spacing:-0.324px;">55.8387...7.67038</span>
<span class="t" style="left:2402.40px;top:1316.00px;font-size:26px;color:#333333;letter-spacing:3.876px;">]]]</span>
<span class="t" style="left:662.80px;top:1392.00px;font-size:26px;color:#333333;letter-spacing:0.133px;">Братеево</span>
<span class="t" style="left:1086.80px;top:1392.00px;font-size:26px;color:#333333;transform:scaleX(1.0004);transform-origin:0 0;">ЮАО</span>
<span class="t" style="left:1246.00px;top:1392.00px;font-size:26px;color:#333333;letter-spacing:0.185px;">7.63</span>
<span class="t" style="left:1492.00px;top:1392.00px;font-size:26px;color:#333333;letter-spacing:0.046px;">110021</span>
<span class="t" style="left:1763.00px;top:1392.00px;font-size:26px;color:#333333;letter-spacing:0.047px;">1585.4</span>
<span class="t" style="left:2164.80px;top:1392.00px;font-size:26px;color:#333333;letter-spacing:3.376px;">[[[</span>
<span class="t" style="left:2195.60px;top:1392.00px;font-size:26px;color:#333333;letter-spacing:-0.324px;">55.6352...7.72714</span>
<span class="t" style="left:2402.40px;top:1392.00px;font-size:26px;color:#333333;letter-spacing:3.876px;">]]]</span>
<span class="t" style="left:529.80px;top:210.80px;font-size:34.5px;color:#ffffff;-webkit-text-stroke:1.0px #ffffff;">3</span>
<span class="t" style="left:2202.50px;top:23.00px;font-size:34.5px;color:#ffffff;-webkit-text-stroke:1.0px #ffffff;">5</span>

</div></div>
</body>
</html>
